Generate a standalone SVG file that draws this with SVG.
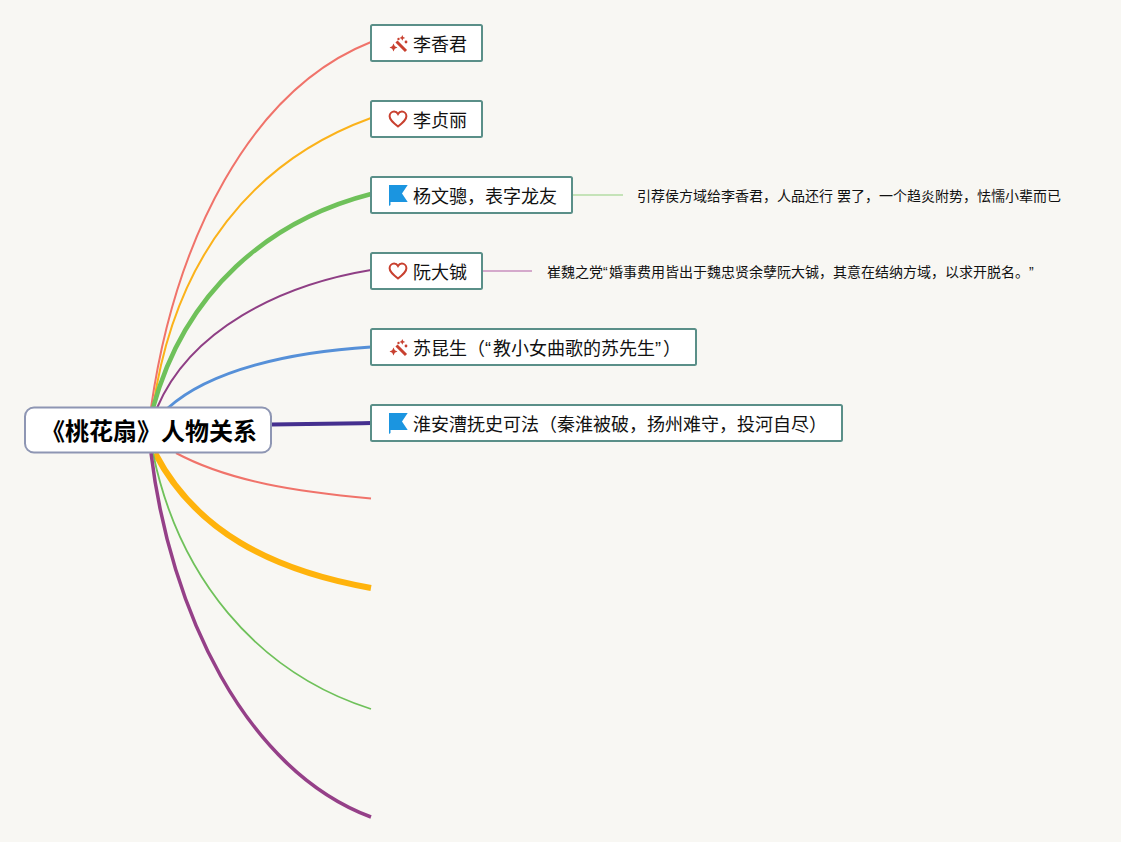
<svg xmlns="http://www.w3.org/2000/svg" width="1121" height="842" viewBox="0 0 1121 842">
<style>
text{font-family:"Liberation Sans","Noto Sans CJK SC",sans-serif;fill:#111}
.t{font-size:18px}
.n{font-size:14px}
.box{fill:#fff;stroke:#5a8f88;stroke-width:2}
.c{fill:none;stroke-linecap:butt}
.flag{fill:#1b95e0}
.ic{fill:none;stroke:#c8402f;stroke-width:2}
.wand{fill:#c8402f}
</style>
<defs>
<g id="wand"><path d="M7.500 7.500L17 17" fill="none" stroke="#c8402f" stroke-width="3"/><path class="wand" d="M4.500 9.500l1.300 2.700 2.700 1.300-2.700 1.300-1.300 2.700-1.300-2.700-2.700-1.300 2.700-1.300zM13.300 1l.9 2 2 .9-2 .9-.9 2-.9-2-2-.9 2-.9z"/><circle class="wand" cx="17" cy="8" r="1.400"/><circle class="wand" cx="9.500" cy="5" r="1.200"/></g>
<path id="heart" class="ic" d="M9 16.500C3.800 12.400.6 9.800.6 6.200.6 3.400 2.800 1.600 5.100 1.600 6.800 1.600 8.200 2.600 9 4 9.800 2.600 11.200 1.600 12.900 1.600 15.200 1.600 17.400 3.400 17.400 6.200 17.400 9.800 14.200 12.400 9 16.500Z"/>
<path id="flag" class="flag" d="M0 0H18.700L13 8.500 18.700 17H1.500V20L0 21Z"/>
</defs>
<rect width="1121" height="842" fill="#f8f7f3"/>
<g id="connectors">
<path class="c" stroke="#f0736a" stroke-width="2" d="M151 408C175 240 250 90 371 42"/>
<path class="c" stroke="#fbb21a" stroke-width="2" d="M153 408C175 255 255 160 371 118"/>
<path class="c" stroke="#6fc15a" stroke-width="4.500" d="M153 408C185 290 270 220 371 194"/>
<path class="c" stroke="#8f3f85" stroke-width="2" d="M157 408C190 330 280 285 371 270"/>
<path class="c" stroke="#5690d8" stroke-width="3" d="M168 408C210 370 290 352 371 347"/>
<path class="c" stroke="#45308f" stroke-width="4" d="M271 424.500C310 424 340 423.500 371 423"/>
<path class="c" stroke="#f0736a" stroke-width="2" d="M176 453C230 482 300 492 371 498.500"/>
<path class="c" stroke="#ffb30c" stroke-width="6" d="M155 453C195 530 270 570 371 588"/>
<path class="c" stroke="#6fc15a" stroke-width="1.800" d="M153 453C178 575 255 672 371 709"/>
<path class="c" stroke="#954088" stroke-width="3.500" d="M151 453C170 610 245 770 371 817"/>
<path class="c" stroke="#b5dda5" stroke-width="1.700" d="M572 195H623"/>
<path class="c" stroke="#c98fbe" stroke-width="1.700" d="M482 271H532"/>
</g>
<g id="root"><rect x="25" y="407.500" width="246" height="45" rx="9" fill="#fff" stroke="#8e96b3" stroke-width="2"/><text x="149" y="440" text-anchor="middle" font-size="24" font-weight="700" style="fill:#000">《桃花扇》人物关系</text></g>
<g id="n1"><rect class="box" x="371" y="25" width="111" height="36" rx="1.500"/><use href="#wand" x="389" y="34"/><text class="t" x="413" y="50.500">李香君</text></g>
<g id="n2"><rect class="box" x="371" y="101" width="111" height="36" rx="1.500"/><use href="#heart" x="389" y="110"/><text class="t" x="413" y="126.500">李贞丽</text></g>
<g id="n3"><rect class="box" x="371" y="177" width="201" height="36" rx="1.500"/><use href="#flag" x="389" y="185"/><text class="t" x="413" y="202.500">杨文骢，表字龙友</text></g>
<g id="n4"><rect class="box" x="371" y="253" width="111" height="36" rx="1.500"/><use href="#heart" x="389" y="262"/><text class="t" x="413" y="278.500">阮大铖</text></g>
<g id="n5"><rect class="box" x="371" y="329" width="325" height="36" rx="1.500"/><use href="#wand" x="389" y="338"/><text class="t" x="413" y="354.500">苏昆生（“<tspan dx="2">教小女曲歌的苏先生</tspan>”<tspan dx="2">）</tspan></text></g>
<g id="n6"><rect class="box" x="371" y="405" width="471" height="36" rx="1.500"/><use href="#flag" x="389" y="413"/><text class="t" x="413" y="430.500">淮安漕抚史可法（秦淮被破，扬州难守，投河自尽）</text></g>
<g id="note1"><text class="n" x="637" y="201">引荐侯方域给李香君，人品还行 罢了，一个趋炎附势，怯懦小辈而已</text></g>
<g id="note2"><text class="n" x="547" y="277">崔魏之党“<tspan dx="1.300">婚事费用皆出于魏忠贤余孽阮大铖，其意在结纳方域，以求开脱名。</tspan><tspan dx="7">”</tspan></text></g>
</svg>
